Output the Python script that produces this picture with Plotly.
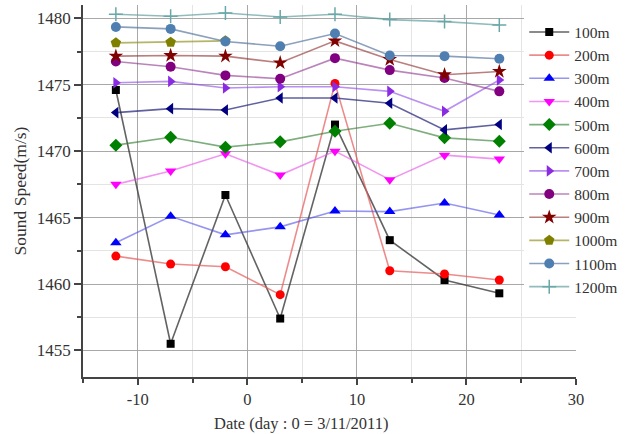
import plotly.graph_objects as go

days = [-12, -7, -2, 3, 8, 13, 18, 23]

depth_labels = ["100m", "200m", "300m", "400m", "500m", "600m",
                "700m", "800m", "900m", "1000m", "1100m", "1200m"]

s100 = [1474.6, 1455.5, 1466.7, 1457.4, 1472.0, 1463.3, 1460.3, 1459.3]
s200 = [1462.1, 1461.5, 1461.3, 1459.2, 1475.1, 1461.0, 1460.75, 1460.3]
s300 = [1463.1, 1465.1, 1463.7, 1464.3, 1465.5, 1465.45, 1466.1, 1465.2]
s400 = [1467.5, 1468.5, 1469.8, 1468.2, 1470.0, 1467.85, 1469.7, 1469.4]
s500 = [1470.45, 1471.05, 1470.3, 1470.7, 1471.5, 1472.1, 1471.0, 1470.75]
s600 = [1472.9, 1473.2, 1473.1, 1474.0, 1474.0, 1473.6, 1471.6, 1472.0]
s700 = [1475.15, 1475.25, 1474.75, 1474.85, 1474.85, 1474.5, 1473.0, 1475.35]
s800 = [1476.75, 1476.35, 1475.7, 1475.45, 1477.0, 1476.1, 1475.5, 1474.5]
s900 = [1477.15, 1477.2, 1477.15, 1476.65, 1478.3, 1476.9, 1475.75, 1476.0]
s1000 = [1478.15, 1478.2, 1478.3]
s1100 = [1479.35, 1479.2, 1478.25, 1477.9, 1478.85, 1477.2, 1477.15, 1476.95]
s1200 = [1480.3, 1480.15, 1480.4, 1480.1, 1480.3, 1479.9, 1479.75, 1479.5]

series = [s100, s200, s300, s400, s500, s600, s700, s800, s900, s1000, s1100, s1200]

x_ticks = [-10, 0, 10, 20, 30]
x_tick_labels = ["-10", "0", "10", "20", "30"]
y_ticks = [1455, 1460, 1465, 1470, 1475, 1480]
y_tick_labels = ["1455", "1460", "1465", "1470", "1475", "1480"]

marker_colors = ["#000000", "#ff0000", "#0000ff", "#ff00ff", "#008000", "#000080",
                 "#8a2be2", "#800080", "#800000", "#808000", "#4f7fb0", "#6aa8a8"]
line_colors = ["rgba(60,60,60,0.8)", "rgba(230,90,90,0.7)", "rgba(80,80,230,0.6)",
               "rgba(230,80,230,0.6)", "rgba(40,120,40,0.6)", "rgba(30,30,120,0.7)",
               "rgba(140,70,230,0.6)", "rgba(140,50,140,0.6)", "rgba(140,40,40,0.6)",
               "rgba(150,150,40,0.7)", "rgba(90,120,160,0.7)", "rgba(100,160,160,0.7)"]
symbols = ["square", "circle", "triangle-up", "triangle-down", "diamond",
           "triangle-left", "triangle-right", "circle", "star", "pentagon",
           "circle", "cross-thin"]
sizes = [8, 9, 10, 10, 10, 10, 10, 10, 11, 11, 10, 10]

fig = go.Figure()
for lab, vals, mc, lc, sym, sz in zip(depth_labels, series, marker_colors,
                                       line_colors, symbols, sizes):
    fig.add_trace(go.Scatter(
        x=days[:len(vals)], y=vals, name=lab, mode="lines+markers",
        line=dict(color=lc, width=1.6),
        marker=dict(symbol=sym, size=sz, color=mc,
                    line=dict(color=mc, width=1.5 if sym == "cross-thin" else 0)),
    ))

font_family = "Liberation Serif"
fig.update_layout(
    width=628, height=434,
    margin=dict(l=83, r=48, t=5, b=57),
    paper_bgcolor="white", plot_bgcolor="white",
    font=dict(family=font_family, size=16, color="#333333"),
    showlegend=True,
    legend=dict(x=0.895, y=0.972, xanchor="left", yanchor="top",
                bgcolor="white", borderwidth=0,
                font=dict(family=font_family, size=15.5, color="#333333"),
                tracegroupgap=0, itemwidth=40),
    xaxis=dict(range=[-15, 30], tickvals=x_ticks, ticktext=x_tick_labels,
               showline=True, linecolor="#444444", linewidth=1.5,
               ticks="outside", ticklen=6, tickwidth=1.5, tickcolor="#444444",
               showgrid=True, gridcolor="#a8a8a8", gridwidth=1.2,
               zeroline=False, mirror=False,
               minor=dict(dtick=5, tick0=0, ticks="outside", ticklen=4,
                          tickwidth=1.5, tickcolor="#444444",
                          showgrid=True, gridcolor="#e4e4e4", gridwidth=1),
               tickfont=dict(family=font_family, size=16.5)),
    yaxis=dict(range=[1453, 1481], tickvals=y_ticks, ticktext=y_tick_labels,
               showline=True, linecolor="#444444", linewidth=1.5,
               ticks="outside", ticklen=7, tickwidth=1.5, tickcolor="#444444",
               showgrid=True, gridcolor="#a8a8a8", gridwidth=1.2,
               zeroline=False, mirror=False,
               minor=dict(dtick=2.5, tick0=1455, ticks="outside", ticklen=4,
                          tickwidth=1.5, tickcolor="#444444",
                          showgrid=True, gridcolor="#e4e4e4", gridwidth=1),
               title=dict(text="Sound Speed(m/s)", standoff=6,
                          font=dict(family=font_family, size=17.5)),
               tickfont=dict(family=font_family, size=17)),
    annotations=[dict(text="Date (day : 0 = 3/11/2011)", xref="paper", yref="paper",
                      x=0.443, y=-0.124, xanchor="center", yanchor="middle",
                      showarrow=False, font=dict(family=font_family, size=16.5))],
)

fig.write_html("out.html")
